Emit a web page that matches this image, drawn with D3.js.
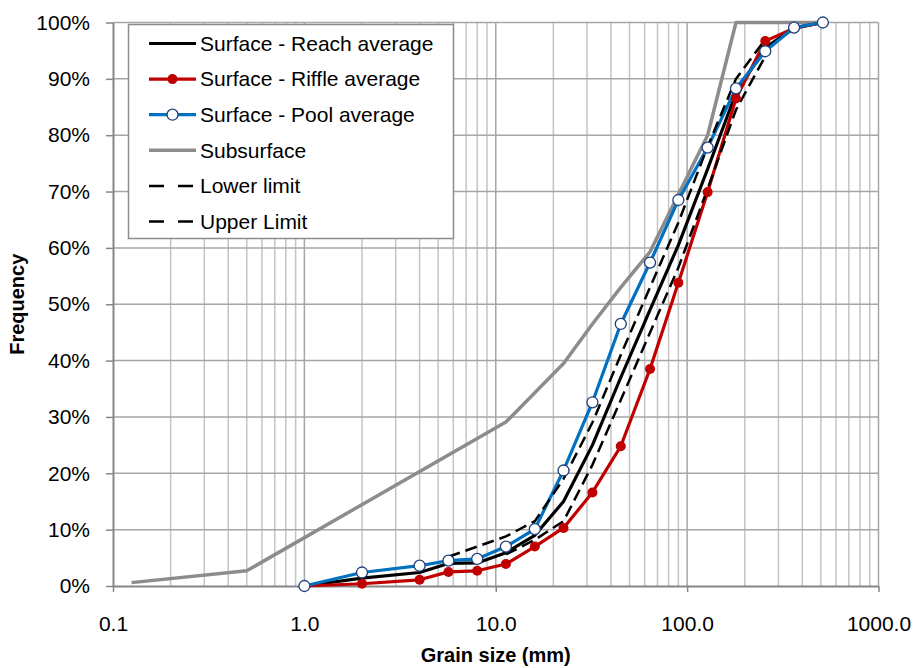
<!DOCTYPE html>
<html>
<head>
<meta charset="utf-8">
<script src="https://cdn.jsdelivr.net/npm/d3@7/dist/d3.min.js"></script>
<style>
  html, body { margin: 0; padding: 0; background: #fff; }
  svg { display: block; font-family: "Liberation Sans", Arial, sans-serif; }
</style>
</head>
<body>
<svg id="chart" width="918" height="668"></svg>
<script>
// Grain size distribution (cumulative % finer)
const sieveSizes = [1, 2, 4, 5.66, 8, 11.3, 16, 22.6, 32, 45, 64, 90, 128, 180, 256, 362, 512];
const reachAverage  = [0, 1.4, 2.4, 4.0, 4.1, 5.9, 9.0, 15.0, 25.0, 37.0, 49.0, 60.5, 74.0, 87.5, 95.5, 99.0, 100];
const riffleAverage = [0, 0.4, 1.1, 2.5, 2.7, 3.9, 7.0, 10.3, 16.6, 24.8, 38.5, 53.8, 69.9, 86.5, 96.7, 99.0, 100];
const poolAverage   = [0, 2.4, 3.6, 4.5, 4.8, 7.0, 10.1, 20.5, 32.6, 46.5, 57.4, 68.5, 77.8, 88.3, 94.9, 99.1, 100];

const subsurfaceSizes = [0.125, 0.5, 11.3, 22.6, 32, 45, 64, 128, 180, 256, 512];
const subsurface      = [0.6, 2.7, 29.1, 39.5, 46.5, 53.0, 59.3, 80.0, 100, 100, 100];

const upperSizes = [5.66, 8, 11.3, 16, 22.6, 32, 45, 64, 90, 128, 180, 256];
const upperLimit = [5.2, 7.0, 8.8, 11.5, 19.0, 29.0, 41.0, 53.0, 64.5, 78.0, 90.0, 97.0];
const lowerSizes = [11.3, 16, 22.6, 32, 45, 64, 90, 128, 180, 256];
const lowerLimit = [5.6, 8.2, 11.5, 21.5, 33.0, 45.0, 56.5, 70.5, 84.5, 94.0];

const xTickValues = [0.1, 1, 10, 100, 1000];
const xTickLabels = ["0.1", "1.0", "10.0", "100.0", "1000.0"];
const yTickValues = [0, 10, 20, 30, 40, 50, 60, 70, 80, 90, 100];

const svg = d3.select("#chart");
const plotLeft = 113, plotRight = 878.5, plotTop = 22.5, plotBottom = 586;

const x = d3.scaleLog().domain([0.1, 1000]).range([plotLeft, plotRight]);
const y = d3.scaleLinear().domain([0, 100]).range([plotBottom, plotTop]);

const pair = (sizes, vals) => sizes.map((s, i) => [s, vals[i]]);
const line = d3.line().x(d => x(d[0])).y(d => y(d[1]));

// Gridlines
const grid = svg.append("g");
const allX = x.ticks();
grid.selectAll("line.vminor")
  .data(allX.filter(v => Math.abs(Math.log10(v) - Math.round(Math.log10(v))) > 1e-6))
  .join("line")
  .attr("x1", d => x(d)).attr("x2", d => x(d))
  .attr("y1", plotTop).attr("y2", plotBottom)
  .attr("stroke", "#c4c4c4").attr("stroke-width", 1.5);
grid.selectAll("line.h")
  .data(yTickValues.filter(v => v > 0))
  .join("line")
  .attr("x1", plotLeft).attr("x2", plotRight)
  .attr("y1", d => y(d)).attr("y2", d => y(d))
  .attr("stroke", "#a6a6a6").attr("stroke-width", 1.5);
grid.selectAll("line.vmajor")
  .data(xTickValues.slice(1))
  .join("line")
  .attr("x1", d => x(d)).attr("x2", d => x(d))
  .attr("y1", plotTop).attr("y2", plotBottom)
  .attr("stroke", "#a6a6a6").attr("stroke-width", 1.5);

// Axes
const axisColor = "#868686";
const xAxis = svg.append("g").attr("transform", `translate(0,${plotBottom})`)
  .call(d3.axisBottom(x).tickValues(xTickValues).tickFormat((d, i) => xTickLabels[i]).tickSizeInner(6).tickSizeOuter(0).tickPadding(24));
const yAxis = svg.append("g").attr("transform", `translate(${plotLeft},0)`)
  .call(d3.axisLeft(y).tickValues(yTickValues).tickFormat(d => d + "%").tickSizeInner(7).tickSizeOuter(0).tickPadding(16));
[xAxis, yAxis].forEach(a => {
  a.select(".domain").attr("stroke", axisColor).attr("stroke-width", 2);
  a.selectAll(".tick line").attr("stroke", axisColor).attr("stroke-width", 1.5);
  a.selectAll(".tick text").attr("fill", "#000").attr("font-size", 21)
    .attr("font-family", "'Liberation Sans', Arial, sans-serif");
});

// Series
const plot = svg.append("g");
plot.append("path").datum(pair(subsurfaceSizes, subsurface))
  .attr("d", line).attr("fill", "none").attr("stroke", "#8c8c8c").attr("stroke-width", 3.5)
  .attr("stroke-linejoin", "round");
plot.append("path").datum(pair(sieveSizes, reachAverage))
  .attr("d", line).attr("fill", "none").attr("stroke", "#000").attr("stroke-width", 3.2)
  .attr("stroke-linejoin", "round");
plot.append("path").datum(pair(sieveSizes, riffleAverage))
  .attr("d", line).attr("fill", "none").attr("stroke", "#c00000").attr("stroke-width", 3.2)
  .attr("stroke-linejoin", "round");
plot.append("path").datum(pair(sieveSizes, poolAverage))
  .attr("d", line).attr("fill", "none").attr("stroke", "#0070c0").attr("stroke-width", 3.2)
  .attr("stroke-linejoin", "round");
plot.append("path").datum(pair(lowerSizes, lowerLimit))
  .attr("d", line).attr("fill", "none").attr("stroke", "#000").attr("stroke-width", 2.5)
  .attr("stroke-dasharray", "12,6");
plot.append("path").datum(pair(upperSizes, upperLimit))
  .attr("d", line).attr("fill", "none").attr("stroke", "#000").attr("stroke-width", 2.5)
  .attr("stroke-dasharray", "12,6");

plot.selectAll("circle.riffle").data(pair(sieveSizes, riffleAverage).slice(1))
  .join("circle").attr("cx", d => x(d[0])).attr("cy", d => y(d[1])).attr("r", 5)
  .attr("fill", "#c00000");
plot.selectAll("circle.pool").data(pair(sieveSizes, poolAverage))
  .join("circle").attr("cx", d => x(d[0])).attr("cy", d => y(d[1])).attr("r", 5.5)
  .attr("fill", "#fff").attr("stroke", "#1f3f7a").attr("stroke-width", 1.3);

// Axis titles
svg.append("text").attr("x", (plotLeft + plotRight) / 2).attr("y", 662)
  .attr("text-anchor", "middle").attr("font-weight", "bold").attr("font-size", 20)
  .text("Grain size (mm)");
svg.append("text").attr("transform", `translate(24,${(plotTop + plotBottom) / 2}) rotate(-90)`)
  .attr("text-anchor", "middle").attr("font-weight", "bold").attr("font-size", 20)
  .text("Frequency");

// Legend
const legendItems = [
  { name: "Surface - Reach average", color: "#000", width: 3.2 },
  { name: "Surface - Riffle average", color: "#c00000", width: 3.2, marker: "filled" },
  { name: "Surface - Pool average", color: "#0070c0", width: 3.2, marker: "open" },
  { name: "Subsurface", color: "#8c8c8c", width: 3.5 },
  { name: "Lower limit", color: "#000", width: 2.5, dash: "15,14" },
  { name: "Upper Limit", color: "#000", width: 2.5, dash: "15,14" }
];
const legend = svg.append("g");
legend.append("rect").attr("x", 128.5).attr("y", 24.5).attr("width", 325).attr("height", 214)
  .attr("fill", "#fff").attr("stroke", "#8c8c8c").attr("stroke-width", 1.5);
const rows = legend.selectAll("g.row").data(legendItems).join("g")
  .attr("transform", (d, i) => `translate(0,${43.5 + i * 35.6})`);
rows.append("line").attr("x1", 149).attr("x2", 196).attr("y1", 0).attr("y2", 0)
  .attr("stroke", d => d.color).attr("stroke-width", d => d.width)
  .attr("stroke-dasharray", d => d.dash || null);
rows.filter(d => d.marker === "filled").append("circle")
  .attr("cx", 172.5).attr("cy", 0).attr("r", 5).attr("fill", "#c00000");
rows.filter(d => d.marker === "open").append("circle")
  .attr("cx", 172.5).attr("cy", 0).attr("r", 5.5).attr("fill", "#fff")
  .attr("stroke", "#1f3f7a").attr("stroke-width", 1.3);
rows.append("text").attr("x", 200).attr("y", 0).attr("dy", "0.35em")
  .attr("font-size", 21).text(d => d.name);
</script>
</body>
</html>
